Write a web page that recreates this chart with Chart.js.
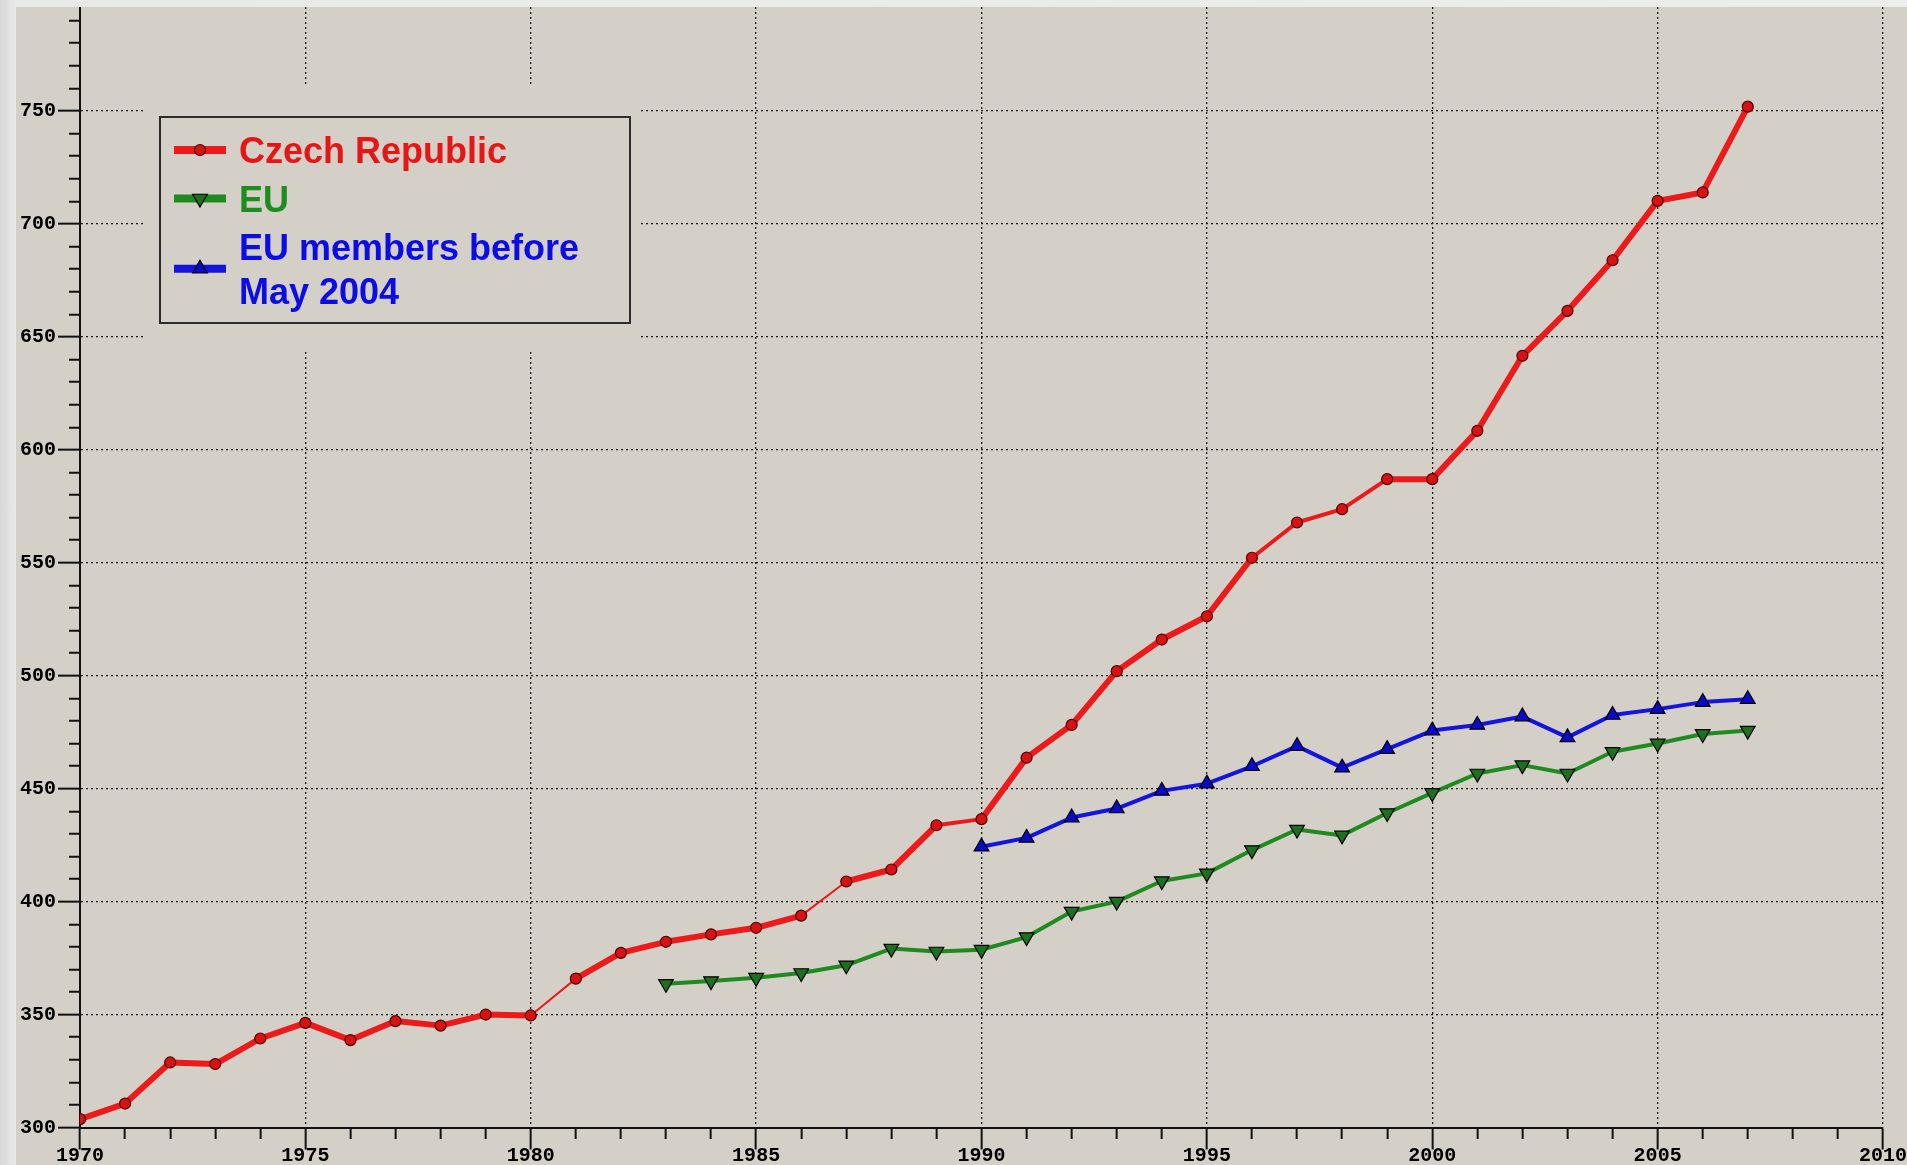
<!DOCTYPE html>
<html>
<head>
<meta charset="utf-8">
<title>Czech Republic vs EU</title>
<script src="https://cdn.jsdelivr.net/npm/chart.js@4.4.1/dist/chart.umd.min.js"></script>
<style>
  html, body { margin: 0; padding: 0; }
  body {
    width: 1907px; height: 1165px; overflow: hidden; position: relative;
    background: linear-gradient(90deg, #d6d6d6 0, #e9e9e9 16px, #ededed 100%);
  }
  #wrap { position: absolute; left: 16px; top: 7px; width: 1891px; height: 1158px; background: #d4d0c8; }
  canvas { display: block; }
</style>
</head>
<body>
<div id="wrap"><canvas id="chart" width="1891" height="1158"></canvas></div>
<script>
// ── Data ─────────────────────────────────────────────────────
const years = [1970, 1971, 1972, 1973, 1974, 1975, 1976, 1977, 1978, 1979,
               1980, 1981, 1982, 1983, 1984, 1985, 1986, 1987, 1988, 1989,
               1990, 1991, 1992, 1993, 1994, 1995, 1996, 1997, 1998, 1999,
               2000, 2001, 2002, 2003, 2004, 2005, 2006, 2007];

const czech = [303.7, 310.6, 328.8, 328.1, 339.4, 346.3, 338.7, 347.1, 345.1, 350.0,
               349.6, 365.9, 377.3, 382.2, 385.5, 388.4, 393.8, 408.9, 414.2, 433.8,
               436.5, 463.7, 478.2, 502.0, 516.0, 526.3, 552.2, 567.8, 573.7, 587.0,
               587.0, 608.4, 641.6, 661.5, 683.9, 710.2, 713.9, 751.9];

const eu = [null, null, null, null, null, null, null, null, null, null,
            null, null, null, 363.6, 364.8, 366.3, 368.4, 371.8, 379.2, 377.9,
            378.7, 384.3, 395.6, 400.0, 409.1, 412.5, 422.8, 431.9, 429.3, 439.2,
            448.1, 456.7, 460.4, 456.7, 466.3, 470.0, 474.2, 475.7];

const eu15 = [null, null, null, null, null, null, null, null, null, null,
              null, null, null, null, null, null, null, null, null, null,
              424.3, 428.2, 437.2, 441.2, 449.0, 452.2, 459.9, 468.8, 459.3, 467.5,
              475.7, 478.2, 481.9, 472.7, 482.6, 485.2, 488.3, 489.6];

const seriesNames  = ['Czech Republic', 'EU', 'EU members before May 2004'];
const legendLabels = [['Czech Republic'], ['EU'], ['EU members before', 'May 2004']];

const xMin = 1970, xMax = 2010, xMajor = 5;
const yMin = 300,  yMax = 796,  yMinor = 10, yMajor = 50;

// ── Helpers ──────────────────────────────────────────────────
const toPoints = vals => years.map((x, i) => ({ x, y: vals[i] })).filter(p => p.y !== null);

// the red line is drawn thinner on a few spans in the original
const thinSpans   = [10, 16];
const mediumSpans = [19, 26, 27, 28];
const redWidth = ctx => thinSpans.includes(ctx.p0DataIndex) ? 2
                      : mediumSpans.includes(ctx.p0DataIndex) ? 4 : 6;

const axisFont = { family: "'Liberation Mono', 'DejaVu Sans Mono', monospace", size: 20, weight: 'bold' };
const GRID = '#1a1a1a';

// ── Legend (drawn inside the plot, clears the grid behind it) ─
const legendStyle = [
  { line: '#ec1a1a', text: '#e41616', fill: '#d81212', stroke: '#4a0000', shape: 'circle' },
  { line: '#1f8a1f', text: '#1e8c1e', fill: '#1d701d', stroke: '#000',    shape: 'down' },
  { line: '#1414dc', text: '#0c0ce4', fill: '#0a0ac8', stroke: '#000',    shape: 'up' }
];

function drawMarker(ctx, shape, x, y, fill, stroke) {
  ctx.beginPath();
  if (shape === 'circle') {
    ctx.arc(x, y, 5.5, 0, Math.PI * 2);
  } else {
    const r = 8.5, s = shape === 'up' ? 1 : -1;
    for (let k = 0; k < 3; k++) {
      const a = k * 2 * Math.PI / 3;
      const px = x + Math.sin(a) * r, py = y - s * Math.cos(a) * r;
      k ? ctx.lineTo(px, py) : ctx.moveTo(px, py);
    }
    ctx.closePath();
  }
  ctx.fillStyle = fill; ctx.fill();
  ctx.lineWidth = 1.2; ctx.strokeStyle = stroke; ctx.stroke();
}

const insideLegend = {
  id: 'insideLegend',
  beforeDatasetsDraw(chart) {
    const { ctx, chartArea } = chart;
    const bx = chartArea.left + 80, by = chartArea.top + 110, bw = 470, bh = 206;

    ctx.save();
    ctx.fillStyle = '#d4d0c8';
    ctx.fillRect(bx - 17, by - 32, bw + 28, bh + 58);
    ctx.lineWidth = 2; ctx.strokeStyle = '#2b2b2b';
    ctx.strokeRect(bx, by, bw, bh);

    ctx.font = "bold 36px 'Liberation Sans', Arial, sans-serif";
    ctx.textBaseline = 'alphabetic';
    let base = by + 46;
    legendLabels.forEach((lines, i) => {
      const st = legendStyle[i];
      const last = base + (lines.length - 1) * 43.5;
      const cy = (base + last) / 2 - 13;
      ctx.lineWidth = 8; ctx.strokeStyle = st.line; ctx.lineCap = 'butt';
      ctx.beginPath(); ctx.moveTo(bx + 14, cy); ctx.lineTo(bx + 66, cy); ctx.stroke();
      drawMarker(ctx, st.shape, bx + 40, cy, st.fill, st.stroke);
      ctx.fillStyle = st.text;
      lines.forEach((t, k) => ctx.fillText(t, bx + 79, base + k * 43.5));
      base = last + 48.5;
    });
    ctx.restore();
  }
};

// ── Chart ────────────────────────────────────────────────────
new Chart(document.getElementById('chart'), {
  type: 'line',
  data: {
    datasets: [
      {
        label: seriesNames[0], data: toPoints(czech),
        borderColor: '#ec1a1a', borderWidth: 6, segment: { borderWidth: redWidth },
        pointStyle: 'circle', pointRadius: 5.5, pointBorderWidth: 1.2,
        pointBackgroundColor: '#d81212', pointBorderColor: '#4a0000'
      },
      {
        label: seriesNames[1], data: toPoints(eu),
        borderColor: '#1f8a1f', borderWidth: 4,
        pointStyle: 'triangle', pointRotation: 180, pointRadius: 8.5, pointBorderWidth: 1.2,
        pointBackgroundColor: '#1d701d', pointBorderColor: '#000'
      },
      {
        label: seriesNames[2], data: toPoints(eu15),
        borderColor: '#1414dc', borderWidth: 4,
        pointStyle: 'triangle', pointRadius: 8.5, pointBorderWidth: 1.2,
        pointBackgroundColor: '#0a0ac8', pointBorderColor: '#000'
      }
    ]
  },
  options: {
    responsive: false,
    animation: false,
    devicePixelRatio: 1,
    layout: { autoPadding: false, padding: { left: 0, top: 0, right: 24, bottom: 0 } },
    elements: { line: { tension: 0, borderJoinStyle: 'round', borderCapStyle: 'round' } },
    plugins: { legend: { display: false }, tooltip: { enabled: false } },
    scales: {
      x: {
        type: 'linear', min: xMin, max: xMax,
        afterFit: s => { s.height = 37.5; s.paddingLeft = 0; s.paddingRight = 0; },
        ticks: {
          stepSize: 1, autoSkip: false, maxRotation: 0, padding: -6, color: '#000', font: axisFont,
          callback: v => v % xMajor === 0 ? String(v) : ''
        },
        grid: {
          color: c => c.tick && c.tick.value % xMajor === 0 ? GRID : 'rgba(0,0,0,0)',
          lineWidth: 1.3, tickLength: 22, tickWidth: 2, tickColor: '#111',
          tickBorderDash: c => c.tick && c.tick.value % xMajor === 0 ? [] : [10, 40]
        },
        border: { display: true, color: '#111', width: 2, dash: [2, 3] }
      },
      y: {
        type: 'linear', min: yMin, max: yMax, bounds: 'data',
        afterBuildTicks: s => { s.ticks = s.ticks.filter(t => t.value % yMinor === 0); },
        afterFit: s => { s.width = 64; s.paddingTop = 0; s.paddingBottom = 0; },
        ticks: {
          stepSize: yMinor, includeBounds: false, autoSkip: false, padding: 2, color: '#000', font: axisFont,
          callback: v => v % yMajor === 0 ? String(v) : ''
        },
        grid: {
          color: c => c.tick && c.tick.value % yMajor === 0 ? GRID : 'rgba(0,0,0,0)',
          lineWidth: 1.3, tickLength: 22, tickWidth: 2, tickColor: '#111',
          tickBorderDash: c => c.tick && c.tick.value % yMajor === 0 ? [] : [0, 11, 12, 0]
        },
        border: { display: true, color: '#111', width: 2, dash: [2, 3] }
      }
    }
  },
  plugins: [insideLegend]
});
</script>
</body>
</html>
